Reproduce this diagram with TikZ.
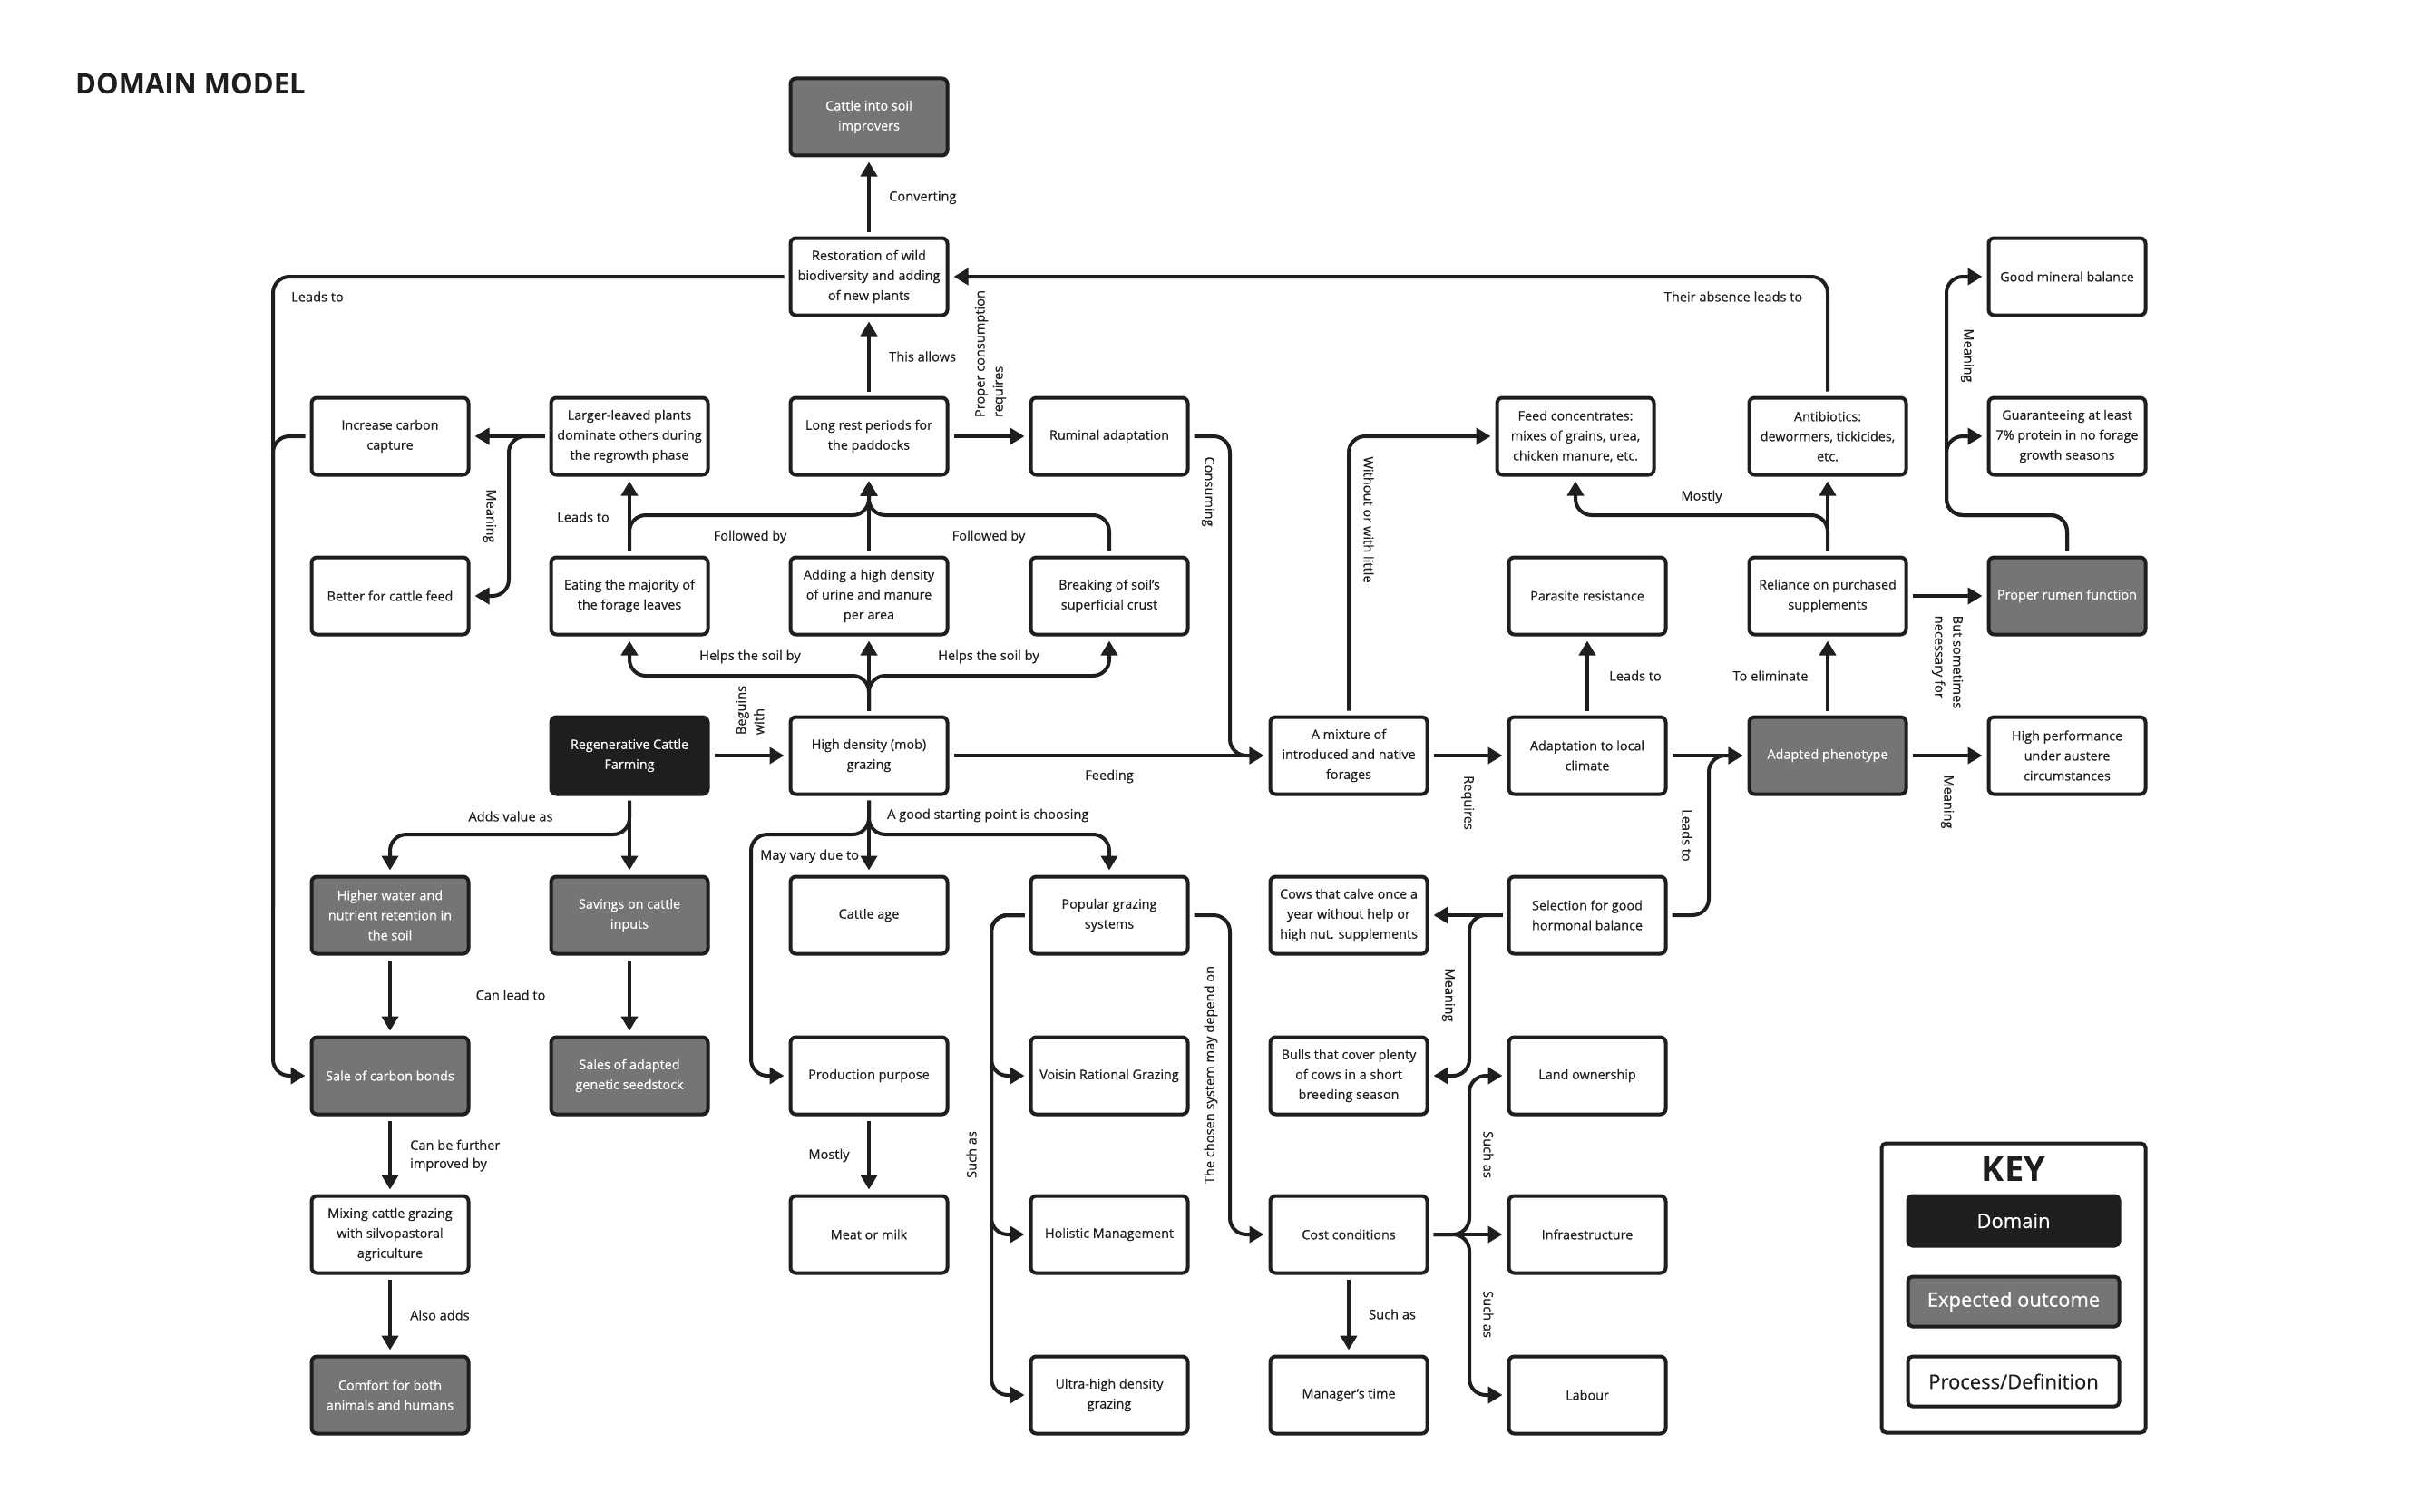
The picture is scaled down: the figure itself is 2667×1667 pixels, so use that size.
\documentclass[tikz,border=0pt]{standalone}
\usepackage{fontspec}
\setmainfont{Open Sans}
\newfontfamily\medfont{Open Sans}[FakeBold=0.4]
\usetikzlibrary{arrows.meta,calc}
\definecolor{ink}{HTML}{1E1E1E}
\definecolor{outgray}{HTML}{757575}
\begin{document}
\begin{tikzpicture}[x=1pt,y=-1pt,
  box/.style={draw=ink, line width=4pt, rounded corners=6pt, minimum width=173pt, minimum height=85pt,
    align=center, inner sep=0pt, outer sep=7pt, font=\medfont\fontsize{14.4}{22}\selectfont, text=ink, fill=white},
  proc/.style={box},
  dom/.style={box, fill=ink, text=white},
  outcome/.style={box, fill=outgray, text=white},
  conn/.style={draw=ink, line width=4pt, rounded corners=18pt},
  arr/.style={conn, -{Triangle[length=16pt,width=18pt]}},
  lab/.style={font=\medfont\fontsize{14.6}{20}\selectfont, text=ink, inner sep=0pt},
  keybox/.style={draw=ink, line width=4pt, rounded corners=5pt, minimum width=233pt, minimum height=55pt,
    font=\medfont\fontsize{22}{26}\selectfont, inner sep=0pt}
]
\useasboundingbox[fill=white] (0,0) rectangle (2667,1667);

\node[anchor=west, inner sep=0pt, text=ink, font=\bfseries\fontsize{31}{36}\selectfont] (title) at (83,92) {DOMAIN MODEL};

% nodes
\node[outcome] (cis) at (958,129) {Cattle into soil\\improvers};
\node[proc] (rest) at (958,305) {Restoration of wild\\biodiversity and adding\\of new plants};
\node[proc] (gmb) at (2279,305) {Good mineral balance};
\node[proc] (icc) at (430,481) {Increase carbon\\capture};
\node[proc] (ll) at (694,481) {Larger-leaved plants\\dominate others during\\the regrowth phase};
\node[proc] (lr) at (958,481) {Long rest periods for\\the paddocks};
\node[proc] (rum) at (1223,481) {Ruminal adaptation};
\node[proc] (feed) at (1737,481) {Feed concentrates:\\mixes of grains, urea,\\chicken manure, etc.};
\node[proc] (anti) at (2015,481) {Antibiotics:\\dewormers, tickicides,\\etc.};
\node[proc] (gua) at (2279,481) {Guaranteeing at least\\7\% protein in no forage\\growth seasons};
\node[proc] (bet) at (430,657) {Better for cattle feed};
\node[proc] (eat) at (694,657) {Eating the majority of\\the forage leaves};
\node[proc] (add) at (958,657) {Adding a high density\\of urine and manure\\per area};
\node[proc] (brk) at (1223,657) {Breaking of soil’s\\superficial crust};
\node[proc] (par) at (1750,657) {Parasite resistance};
\node[proc] (rel) at (2015,657) {Reliance on purchased\\supplements};
\node[outcome] (prf) at (2279,657) {Proper rumen function};
\node[dom] (reg) at (694,833) {Regenerative Cattle\\Farming};
\node[proc] (hd) at (958,833) {High density (mob)\\grazing};
\node[proc] (mix) at (1487,833) {A mixture of\\introduced and native\\forages};
\node[proc] (ada) at (1750,833) {Adaptation to local\\climate};
\node[outcome] (adp) at (2015,833) {Adapted phenotype};
\node[proc] (hpa) at (2279,833) {High performance\\under austere\\circumstances};
\node[outcome] (hw) at (430,1009) {Higher water and\\nutrient retention in\\the soil};
\node[outcome] (sav) at (694,1009) {Savings on cattle\\inputs};
\node[proc] (age) at (958,1009) {Cattle age};
\node[proc] (pop) at (1223,1009) {Popular grazing\\systems};
\node[proc] (cows) at (1487,1009) {Cows that calve once a\\year without help or\\high nut. supplements};
\node[proc] (sel) at (1750,1009) {Selection for good\\hormonal balance};
\node[outcome] (scb) at (430,1186) {Sale of carbon bonds};
\node[outcome] (sas) at (694,1186) {Sales of adapted\\genetic seedstock};
\node[proc] (prod) at (958,1186) {Production purpose};
\node[proc] (voi) at (1223,1186) {Voisin Rational Grazing};
\node[proc] (bul) at (1487,1186) {Bulls that cover plenty\\of cows in a short\\breeding season};
\node[proc] (land) at (1750,1186) {Land ownership};
\node[proc] (mcg) at (430,1361) {Mixing cattle grazing\\with silvopastoral\\agriculture};
\node[proc] (meat) at (958,1361) {Meat or milk};
\node[proc] (hol) at (1223,1361) {Holistic Management};
\node[proc] (cost) at (1487,1361) {Cost conditions};
\node[proc] (inf) at (1750,1361) {Infraestructure};
\node[outcome] (com) at (430,1538) {Comfort for both\\animals and humans};
\node[proc] (ult) at (1223,1538) {Ultra-high density\\grazing};
\node[proc] (mgr) at (1487,1538) {Manager’s time};
\node[proc] (lab) at (1750,1538) {Labour};

% helper coordinates
\coordinate (lvlA) at (958,745);
\coordinate (lvlB) at (694,568);
\coordinate (lvlC) at (1223,568);
\coordinate (mB) at (561,657);
\coordinate (lc) at (301,1186);
\coordinate (lm) at (301,1000);
\coordinate (cv) at (1356,833);
\coordinate (sa) at (1884,833);
\coordinate (rf) at (2015,568);
\coordinate (pr1) at (2279,568);
\coordinate (pr2) at (2146,305);
\coordinate (pr3) at (2146,481);
\coordinate (r920) at (694,920);
\coordinate (h920) at (958,920);
\coordinate (pv) at (828,1186);
\coordinate (sv1) at (1093,1186);
\coordinate (sv2) at (1093,1361);
\coordinate (sv3) at (1093,1538);
\coordinate (cv2) at (1356,1361);
\coordinate (sb) at (1620,1186);
\coordinate (cl3) at (1620,1538);

% connectors
\draw[arr] (hd.north) -- (add.south);
\draw[arr] (hd.north) -- (lvlA) -| (eat.south);
\draw[arr] (hd.north) -- (lvlA) -| (brk.south);
\draw[arr] (eat.north) -- (ll.south);
\draw[arr] (eat.north) -- (lvlB) -| (lr.south);
\draw[arr] (add.north) -- (lr.south);
\draw[arr] (brk.north) -- (lvlC) -| (lr.south);
\draw[arr] (lr.north) -- (rest.south);
\draw[arr] (rest.north) -- (cis.south);
\draw[arr] (lr.east) -- (rum.west);
\draw[arr] (ll.west) -- (icc.east);
\draw[arr] (ll.west) -| (mB) -- (bet.east);
\draw[arr] (rest.west) -| (lc) -- (scb.west);
\draw[conn] (icc.west) -| (lm);
\draw[arr] (anti.north) |- (rest.east);
\draw[arr] (mix.north) |- (feed.west);
\draw[arr] (rum.east) -| (cv) -- (mix.west);
\draw[arr] (hd.east) -- (mix.west);
\draw[arr] (reg.east) -- (hd.west);
\draw[arr] (mix.east) -- (ada.west);
\draw[arr] (ada.east) -- (adp.west);
\draw[arr] (ada.north) -- (par.south);
\draw[arr] (sel.east) -| (sa) -- (adp.west);
\draw[arr] (adp.north) -- (rel.south);
\draw[arr] (adp.east) -- (hpa.west);
\draw[arr] (rel.north) -- (anti.south);
\draw[arr] (rel.north) -- (rf) -| (feed.south);
\draw[arr] (rel.east) -- (prf.west);
\draw[arr] (prf.north) -- (pr1) -| (pr2) -- (gmb.west);
\draw[arr] (prf.north) -- (pr1) -| (pr3) -- (gua.west);
\draw[arr] (reg.south) -- (sav.north);
\draw[arr] (reg.south) -- (r920) -| (hw.north);
\draw[arr] (hw.south) -- (scb.north);
\draw[arr] (sav.south) -- (sas.north);
\draw[arr] (scb.south) -- (mcg.north);
\draw[arr] (mcg.south) -- (com.north);
\draw[arr] (hd.south) -- (age.north);
\draw[arr] (hd.south) -- (h920) -| (pop.north);
\draw[arr] (hd.south) -- (h920) -| (pv) -- (prod.west);
\draw[arr] (prod.south) -- (meat.north);
\draw[arr] (pop.west) -| (sv1) -- (voi.west);
\draw[arr] (pop.west) -| (sv2) -- (hol.west);
\draw[arr] (pop.west) -| (sv3) -- (ult.west);
\draw[arr] (pop.east) -| (cv2) -- (cost.west);
\draw[arr] (sel.west) -- (cows.east);
\draw[arr] (sel.west) -| (sb) -- (bul.east);
\draw[arr] (cost.east) -| (sb) -- (land.west);
\draw[arr] (cost.east) -| (cl3) -- (lab.west);
\draw[arr] (cost.east) -- (inf.west);
\draw[arr] (cost.south) -- (mgr.north);

% labels
\node[lab, anchor=west] (l1) at (980,218) {Converting};
\node[lab, anchor=west] (l2) at (980,393) {This allows};
\node[lab, rotate=90, align=left] (l3) at (1092,390) {Proper consumption\\requires};
\node[lab, rotate=-90] (l4) at (1332,542) {Consuming};
\node[lab] (l5) at (1223,856) {Feeding};
\node[lab, rotate=90, align=left] (l6) at (827,783) {Beguins\\with};
\node[lab] (l7) at (827,724) {Helps the soil by};
\node[lab] (l8) at (1090,724) {Helps the soil by};
\node[lab] (l9) at (643,570) {Leads to};
\node[lab] (l10) at (827,592) {Followed by};
\node[lab] (l11) at (1090,592) {Followed by};
\node[lab, rotate=-90] (l12) at (540,569) {Meaning};
\node[lab] (l13) at (350,327) {Leads to};
\node[lab] (l14) at (1911,327) {Their absence leads to};
\node[lab, rotate=-90] (l15) at (1509,573) {Without or with little};
\node[lab] (l16) at (1803,745) {Leads to};
\node[lab, rotate=-90] (l17) at (1618,885) {Requires};
\node[lab, rotate=-90] (l18) at (1860,921) {Leads to};
\node[lab] (l19) at (1952,745) {To eliminate};
\node[lab, rotate=-90] (l20) at (2147,884) {Meaning};
\node[lab] (l21) at (1876,548) {Mostly};
\node[lab, rotate=-90, align=left] (l22) at (2147,730) {But sometimes\\necessary for};
\node[lab, rotate=-90] (l23) at (2169,392) {Meaning};
\node[lab] (l24) at (563,900) {Adds value as};
\node[lab] (l25) at (563,1097) {Can lead to};
\node[lab, anchor=west, align=left] (l26) at (452,1274) {Can be further\\improved by};
\node[lab, anchor=west] (l27) at (452,1450) {Also adds};
\node[lab, anchor=west] (l28) at (978,899) {A good starting point is choosing};
\node[lab, anchor=west] (l29) at (838,944) {May vary due to};
\node[lab] (l30) at (914,1274) {Mostly};
\node[lab, rotate=90] (l31) at (1071,1273) {Such as};
\node[lab, rotate=90] (l32) at (1335,1185) {The chosen system may depend on};
\node[lab, rotate=-90] (l33) at (1597,1097) {Meaning};
\node[lab, rotate=-90] (l34) at (1641,1273) {Such as};
\node[lab, rotate=-90] (l35) at (1641,1449) {Such as};
\node[lab, anchor=west] (l36) at (1509,1449) {Such as};

% key
\node[draw=ink, line width=4pt, rounded corners=5pt, minimum width=291pt, minimum height=319pt, inner sep=0pt] (key) at (2220,1420) {};
\node[text=ink, inner sep=0pt, font=\bfseries\fontsize{38}{40}\selectfont] (keyt) at (2220,1289) {KEY};
\node[keybox, fill=ink, text=white] (kd) at (2220,1346) {Domain};
\node[keybox, fill=outgray, text=white] (ke) at (2220,1435) {Expected outcome};
\node[keybox, fill=white, text=ink] (kp) at (2220,1523) {Process/Definition};
\end{tikzpicture}
\end{document}
